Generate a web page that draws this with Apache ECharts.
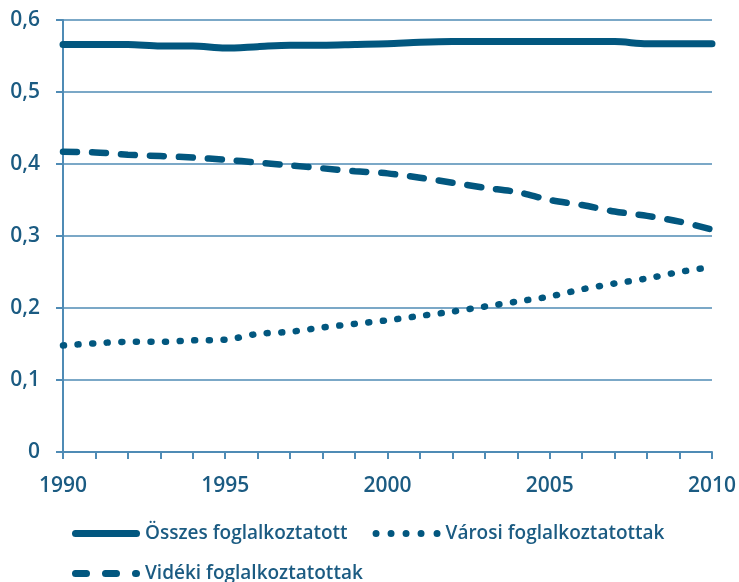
<!DOCTYPE html>
<html>
<head>
<meta charset="utf-8">
<script src="https://cdn.jsdelivr.net/npm/echarts@6/dist/echarts.min.js"></script>
<style>
html,body{margin:0;padding:0;background:#fff;}
#chart{width:739px;height:582px;}
</style>
</head>
<body>
<div id="chart"></div>
<script>
const years = [1990,1991,1992,1993,1994,1995,1996,1997,1998,1999,2000,2001,2002,2003,2004,2005,2006,2007,2008,2009,2010];
const osszes = [0.566,0.566,0.566,0.564,0.564,0.561,0.563,0.565,0.565,0.566,0.567,0.569,0.570,0.570,0.570,0.570,0.570,0.570,0.567,0.567,0.567];
const varosi = [0.148,0.151,0.153,0.153,0.155,0.156,0.164,0.167,0.173,0.178,0.183,0.189,0.195,0.202,0.209,0.216,0.226,0.234,0.241,0.250,0.257];
const videki = [0.417,0.416,0.413,0.411,0.409,0.406,0.402,0.398,0.394,0.390,0.387,0.381,0.374,0.367,0.361,0.350,0.343,0.334,0.328,0.320,0.309];
const names = ['Összes foglalkoztatott','Városi foglalkoztatottak','Vidéki foglalkoztatottak'];
const xTicks = {min:1990, max:2010, interval:5};
const yTicks = {min:0, max:0.6, interval:0.1};

const lineColor = '#02577f';
const axisColor = '#4f8bb5';
const textColor = '#1b5b82';
const font = 'Open Sans';

const pair = arr => years.map((y,i)=>[y,arr[i]]);

// legend icon shapes (68 x 7 box)
function pill(x0, x1){ const r=3.5; return `M${x0+r},0 H${x1-r} A${r},${r} 0 0,1 ${x1-r},7 H${x0+r} A${r},${r} 0 0,1 ${x0+r},0 Z `; }
function dot(cx){ const r=3.5; return `M${cx-r},3.5 A${r},${r} 0 1,0 ${cx+r},3.5 A${r},${r} 0 1,0 ${cx-r},3.5 Z `; }
const iconSolid = 'path://' + pill(0,68);
const iconDots = 'path://' + dot(3.5)+dot(18.5)+dot(33.5)+dot(48.5)+dot(64.5);
const iconDash = 'path://' + pill(0,18)+pill(30,48)+pill(60,68);

const chart = echarts.init(document.getElementById('chart'), null, {renderer:'canvas'});
chart.setOption({
  animation:false,
  backgroundColor:'#fff',
  grid:{left:63,right:27,top:20,bottom:130,containLabel:false},
  xAxis:{
    type:'value', min:xTicks.min, max:xTicks.max, interval:xTicks.interval,
    axisLine:{show:true,lineStyle:{color:axisColor,width:2}},
    axisTick:{show:true,length:7,lineStyle:{color:axisColor,width:2}},
    minorTick:{show:true,splitNumber:5,length:7,lineStyle:{color:axisColor,width:2}},
    splitLine:{show:false},
    axisLabel:{color:textColor,fontFamily:font,fontSize:21,fontWeight:600,margin:24,formatter:v=>String(v)}
  },
  yAxis:{
    type:'value', min:yTicks.min, max:yTicks.max, interval:yTicks.interval,
    axisLine:{show:true,lineStyle:{color:axisColor,width:2}},
    axisTick:{show:true,length:7,lineStyle:{color:axisColor,width:2}},
    splitLine:{show:true,lineStyle:{color:axisColor,width:1.5}},
    axisLabel:{color:textColor,fontFamily:font,fontSize:21,fontWeight:600,margin:23,
      formatter:v=>(Math.round(v*10)/10).toString().replace('.',',')}
  },
  legend:[
    {data:[{name:names[0],icon:iconSolid},{name:names[1],icon:iconDots}],left:72,top:524,padding:0,itemWidth:68,itemHeight:7,itemGap:25,
     textStyle:{color:textColor,fontFamily:font,fontSize:19,fontWeight:600}},
    {data:[{name:names[2],icon:iconDash}],left:72,top:564,padding:0,itemWidth:68,itemHeight:7,
     textStyle:{color:textColor,fontFamily:font,fontSize:19,fontWeight:600}}
  ],
  series:[
    {name:names[0],type:'line',data:pair(osszes),symbol:'none',smooth:0.3,
     lineStyle:{color:lineColor,width:7,cap:'round'},itemStyle:{color:lineColor}},
    {name:names[1],type:'line',data:pair(varosi),symbol:'none',smooth:0.3,
     lineStyle:{color:lineColor,width:6.5,type:[1,13.6],cap:'round'},itemStyle:{color:lineColor}},
    {name:names[2],type:'line',data:pair(videki),symbol:'none',smooth:0.3,
     lineStyle:{color:lineColor,width:6.5,type:[14,15],cap:'round'},itemStyle:{color:lineColor}}
  ]
});
</script>
</body>
</html>
